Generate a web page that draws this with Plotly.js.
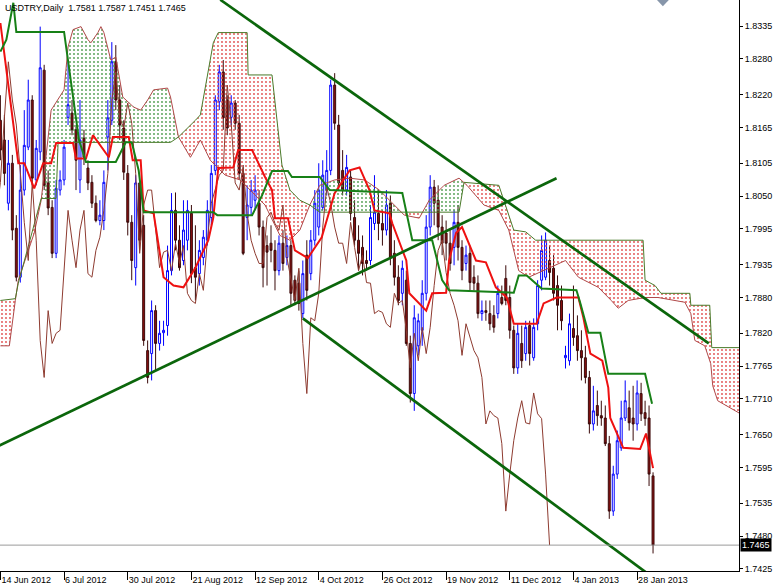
<!DOCTYPE html>
<html><head><meta charset="utf-8">
<script src="https://cdn.plot.ly/plotly-3.0.1.min.js"></script>
<style>html,body{margin:0;padding:0;background:#fff}#chart{width:774px;height:586px}</style>
</head><body><div id="chart"></div>
<script>
// ---------------- DATA ----------------
const symbol = 'USDTRY';
const timeframe = 'Daily';

const openPrice = [
1.8177,1.8144,1.8038,1.8105,1.7996,1.7914,1.8060,1.8132,1.8211,1.8077,
1.8124,1.8261,1.8072,1.8031,1.7954,1.8060,1.8077,1.8182,1.8189,1.8161,
1.8077,1.8147,1.8097,1.8073,1.8038,1.8009,1.8009,1.8149,1.8177,1.8275,
1.8211,1.8164,1.8088,1.8006,1.7930,1.8072,1.8001,1.7791,1.7786,1.7858,
1.7803,1.7821,1.7833,1.7925,1.8026,1.7976,1.7942,1.7976,1.8021,1.7930,
1.7920,1.7947,1.7976,1.8014,1.8093,1.8208,1.8258,1.8211,1.8182,1.8206,
1.8172,1.8088,1.8014,1.8031,1.8043,1.8038,1.7998,1.7967,1.7971,1.7959,
1.7925,1.7971,1.7947,1.7967,1.7909,1.7904,1.7853,1.7951,1.7920,1.7976,
1.7998,1.8031,1.8060,1.8093,1.8236,1.8169,1.8093,1.8060,1.8082,1.8014,
1.7976,1.7964,1.7942,1.7942,1.8004,1.8021,1.8004,1.7993,1.8038,1.7954,
1.7914,1.7887,1.7909,1.7803,1.7719,1.7799,1.7825,1.7887,1.7998,1.8065,
1.8043,1.7998,1.7988,1.7971,1.7964,1.8006,1.7964,1.7937,1.7954,1.7914,
1.7904,1.7853,1.7858,1.7853,1.7850,1.7853,1.7880,1.7912,1.7880,1.7825,
1.7762,1.7803,1.7786,1.7833,1.7779,1.7836,1.7909,1.7914,1.7942,1.7929,
1.7900,1.7875,1.7779,1.7774,1.7828,1.7816,1.7791,1.7779,1.7746,1.7668,
1.7699,1.7682,1.7678,1.7635,1.7522,1.7584,1.7628,1.7678,1.7695,1.7678,
1.7668,1.7719,1.7687,1.7678,1.7581];

const highPrice = [
1.8219,1.8186,1.8144,1.8119,1.8018,1.8102,1.8194,1.8245,1.8219,1.8144,
1.8334,1.8270,1.8093,1.8043,1.8077,1.8093,1.8144,1.8278,1.8211,1.8169,
1.8211,1.8161,1.8110,1.8085,1.8051,1.8043,1.8093,1.8211,1.8308,1.8303,
1.8236,1.8177,1.8102,1.8018,1.8085,1.8077,1.8018,1.7808,1.7875,1.7867,
1.7841,1.7841,1.7967,1.8055,1.8056,1.8001,1.8043,1.8043,1.8035,1.8001,
1.7976,1.7993,1.8043,1.8102,1.8219,1.8270,1.8278,1.8219,1.8219,1.8211,
1.8186,1.8102,1.8068,1.8077,1.8085,1.8060,1.8009,1.7984,1.8001,1.7976,
1.7984,1.7993,1.7984,1.7976,1.7917,1.7925,1.7942,1.7976,1.7993,1.8060,
1.8105,1.8110,1.8127,1.8245,1.8256,1.8186,1.8127,1.8119,1.8093,1.8043,
1.8001,1.7984,1.7959,1.8035,1.8085,1.8060,1.8026,1.8060,1.8051,1.7976,
1.7934,1.7942,1.7925,1.7816,1.7867,1.7853,1.7909,1.8018,1.8085,1.8077,
1.8068,1.8018,1.8009,1.7993,1.8026,1.8035,1.7976,1.7967,1.7967,1.7934,
1.7917,1.7875,1.7875,1.7875,1.7867,1.7900,1.7900,1.7934,1.7900,1.7833,
1.7836,1.7833,1.7841,1.7841,1.7845,1.7909,1.7984,1.7989,1.7967,1.7951,
1.7917,1.7900,1.7799,1.7853,1.7900,1.7850,1.7825,1.7799,1.7757,1.7732,
1.7724,1.7707,1.7699,1.7648,1.7598,1.7657,1.7707,1.7741,1.7724,1.7732,
1.7741,1.7737,1.7707,1.7699,1.7587];

const lowPrice = [
1.8110,1.8068,1.8026,1.7976,1.7907,1.7905,1.8051,1.8127,1.8068,1.8068,
1.8110,1.8060,1.8018,1.7946,1.7946,1.8051,1.8068,1.8169,1.8152,1.8060,
1.8055,1.8102,1.8060,1.8030,1.8006,1.8001,1.7993,1.8093,1.8169,1.8194,
1.8144,1.8077,1.7984,1.7909,1.7900,1.7959,1.7799,1.7736,1.7741,1.7757,
1.7791,1.7799,1.7816,1.7917,1.7959,1.7925,1.7934,1.7959,1.7904,1.7875,
1.7900,1.7934,1.7967,1.8001,1.8085,1.8194,1.8161,1.8152,1.8169,1.8161,
1.8077,1.7951,1.7976,1.8018,1.8026,1.7984,1.7897,1.7900,1.7939,1.7892,
1.7917,1.7925,1.7934,1.7867,1.7867,1.7858,1.7845,1.7875,1.7909,1.7967,
1.7984,1.8026,1.8051,1.8085,1.8161,1.8060,1.8051,1.8051,1.8009,1.7967,
1.7925,1.7917,1.7925,1.7934,1.7993,1.7976,1.7967,1.7984,1.7934,1.7900,
1.7867,1.7867,1.7799,1.7704,1.7690,1.7783,1.7799,1.7875,1.7984,1.8001,
1.7976,1.7951,1.7942,1.7925,1.7934,1.7942,1.7909,1.7925,1.7892,1.7892,
1.7845,1.7841,1.7841,1.7825,1.7821,1.7845,1.7867,1.7867,1.7811,1.7752,
1.7752,1.7762,1.7774,1.7766,1.7774,1.7825,1.7892,1.7909,1.7900,1.7875,
1.7825,1.7825,1.7761,1.7766,1.7799,1.7774,1.7741,1.7736,1.7652,1.7657,
1.7665,1.7665,1.7631,1.7509,1.7514,1.7576,1.7623,1.7673,1.7657,1.7640,
1.7657,1.7673,1.7665,1.7564,1.7451];

const closePrice = [
1.8127,1.8088,1.8105,1.7993,1.7914,1.8060,1.8135,1.8211,1.8080,1.8130,
1.8265,1.8068,1.8030,1.7954,1.8063,1.8077,1.8132,1.8203,1.8161,1.8110,
1.8144,1.8115,1.8072,1.8038,1.8009,1.8018,1.8073,1.8181,1.8275,1.8211,
1.8169,1.8090,1.8006,1.7942,1.8072,1.7976,1.7808,1.7746,1.7858,1.7803,
1.7820,1.7825,1.7925,1.8026,1.7976,1.7930,1.7993,1.8026,1.7920,1.7914,
1.7959,1.7981,1.8026,1.8088,1.8211,1.8258,1.8181,1.8164,1.8206,1.8172,
1.8088,1.7954,1.8035,1.8060,1.8060,1.7998,1.7930,1.7956,1.7959,1.7925,
1.7971,1.7937,1.7967,1.7887,1.7875,1.7870,1.7920,1.7892,1.7976,1.8038,
1.8060,1.8085,1.8093,1.8236,1.8172,1.8072,1.8060,1.8098,1.8021,1.7976,
1.7954,1.7937,1.7937,1.8014,1.8023,1.8004,1.7993,1.8035,1.7947,1.7914,
1.7875,1.7929,1.7803,1.7719,1.7846,1.7841,1.7887,1.7998,1.8065,1.8038,
1.7998,1.7971,1.7971,1.7937,1.8006,1.7964,1.7925,1.7951,1.7905,1.7904,
1.7853,1.7858,1.7855,1.7836,1.7830,1.7887,1.7870,1.7875,1.7825,1.7762,
1.7820,1.7774,1.7830,1.7786,1.7830,1.7900,1.7959,1.7976,1.7922,1.7887,
1.7867,1.7841,1.7783,1.7836,1.7813,1.7791,1.7779,1.7746,1.7668,1.7690,
1.7682,1.7678,1.7635,1.7522,1.7584,1.7640,1.7678,1.7707,1.7670,1.7668,
1.7720,1.7685,1.7677,1.7584,1.7465];

// x-axis: bar numbers of the labelled dates
const dateTickBars = [0,16,32,48,64,80,96,112,128,144,160];
const dateTickLabels = ['14 Jun 2012','6 Jul 2012','30 Jul 2012','21 Aug 2012','12 Sep 2012',
  '4 Oct 2012','26 Oct 2012','19 Nov 2012','11 Dec 2012','4 Jan 2013','28 Jan 2013'];

// y-axis price labels
const priceTicks = [1.8335,1.8280,1.8220,1.8165,1.8105,1.8050,1.7995,1.7935,1.7880,
  1.7820,1.7765,1.7710,1.7650,1.7595,1.7535,1.7480,1.7425];

// Ichimoku lines (bar number, price)
const tenkanBar = [0,4.5,6,8.5,10.75,12.75,14,18.25,19,21.5,23.25,27.25,28.25,32.25,33.25,35.25,36,38.5,41,43.5,46,49,52.25,53.5,54.75,58.5,59.75,63.25,66.5,68.25,69,72.25,74,77.25,80.75,84,87.75,90.25,92.75,94,97.75,98.5,102,102.75,107,108.5,112,112.75,114.5,116,119.5,122,124.5,127.25,129,134.75,136.5,139.75,145.25,146.5,148.25,151.25,152.75,153.25,156.5,160.75,162.25,164];
const tenkanVal = [1.8340,1.8105,1.8105,1.8063,1.8105,1.8105,1.8139,1.8139,1.8113,1.8113,1.8152,1.8115,1.8149,1.8149,1.8110,1.8110,1.8026,1.8021,1.7914,1.7900,1.7897,1.7930,1.7976,1.8014,1.8097,1.8098,1.8127,1.8127,1.8082,1.8060,1.8013,1.8013,1.7959,1.7946,1.7981,1.8055,1.8093,1.8098,1.8060,1.8026,1.8021,1.8004,1.7942,1.7887,1.7858,1.7887,1.7888,1.7942,1.7988,1.7998,1.7942,1.7939,1.7897,1.7880,1.7836,1.7836,1.7870,1.7880,1.7880,1.7846,1.7786,1.7774,1.7729,1.7678,1.7628,1.7626,1.7652,1.7594];

const kijunBar = [0,1.5,3.25,4,16,18.25,19.75,21.5,29,31.5,33,34.75,36,53.5,54.5,63.25,65.75,68.25,72.25,73.25,80.25,82.75,101,103.5,108.5,111,112.75,129,130.25,132.25,136,144.75,145.75,147.75,150.75,152.75,162,163.75];
const kijunVal = [1.8292,1.8312,1.8374,1.8325,1.8325,1.8211,1.8144,1.8107,1.8107,1.8140,1.8140,1.8093,1.8023,1.8023,1.8018,1.8018,1.8051,1.8092,1.8092,1.8082,1.8082,1.8060,1.8055,1.7976,1.7976,1.7909,1.7892,1.7888,1.7917,1.7917,1.7895,1.7892,1.7870,1.7821,1.7821,1.7752,1.7752,1.7702];

const senkouABar = [0,2.25,3.75,4.5,8.5,10.25,12.75,16,17,18.25,20.25,22,22.75,24.5,25.25,26,27.75,29,30.75,33.5,35.25,37,38.5,42,42.75,44.75,47.75,50.25,52.75,56.5,60.25,64,66.5,70.25,72.75,75.25,77.75,80.25,84,87.75,91.5,95.25,99,101.5,105.25,107.75,111.5,115.25,117.25,121.5,125.25,127.75,130.25,132.75,137.75,142,145.25,150.25,153.5,155.25,157.75,162,165.25,172,173.5,174.5,177,178.5,179,180.25,186];
const senkouAVal = [1.7799,1.7799,1.7875,1.7909,1.7988,1.8043,1.8194,1.8228,1.8300,1.8329,1.8334,1.8312,1.8307,1.8324,1.8334,1.8324,1.8278,1.8283,1.8216,1.8199,1.8194,1.8211,1.8228,1.8231,1.8216,1.8149,1.8115,1.8144,1.8110,1.8085,1.8077,1.8051,1.8035,1.7984,1.7976,1.7993,1.8035,1.8068,1.8077,1.8080,1.8077,1.8060,1.8035,1.8018,1.8013,1.8043,1.8068,1.8080,1.8068,1.8035,1.8026,1.7993,1.7925,1.7914,1.7929,1.7942,1.7914,1.7897,1.7875,1.7862,1.7875,1.7880,1.7880,1.7872,1.7853,1.7808,1.7799,1.7769,1.7732,1.7707,1.7685];

const senkouBBar = [0,3.75,4.5,9.75,10.25,14,14.5,42.75,44.75,49,50.25,53.5,54.75,62,62.25,68.25,70.75,72.75,75.25,77.75,80.25,115.25,116.5,125.25,129,132,134.5,161.5,162,164.5,166,173.25,173.5,178.25,178.75,186];
const senkouBVal = [1.7875,1.7878,1.7904,1.8035,1.8046,1.8046,1.8140,1.8140,1.8149,1.8177,1.8186,1.8307,1.8324,1.8324,1.8253,1.8253,1.8102,1.8060,1.8043,1.8035,1.8023,1.8023,1.8073,1.8068,1.7993,1.7990,1.7976,1.7976,1.7909,1.7900,1.7887,1.7887,1.7867,1.7867,1.7796,1.7796];

const chikouShift = 26;

// hand-drawn trend lines (bar number, price)
const resistanceBar = [55.25, 178];   const resistancePrice = [1.8379, 1.7803];
const supportBar    = [-0.5, 139.75]; const supportPrice    = [1.7631, 1.8080];
const channelBar    = [76, 163.5];    const channelPrice    = [1.7845, 1.7413];

// ---------------- DRAWING ----------------
const FONT = '"Liberation Sans", Arial, sans-serif';
const nBars = closePrice.length;
const bars = closePrice.map((_, i) => i);
const last = nBars - 1;

function lin(xs, ys, x) {
  if (x <= xs[0]) return ys[0];
  for (let k = 1; k < xs.length; k++) {
    if (x <= xs[k]) {
      const t = (x - xs[k-1]) / (xs[k] - xs[k-1] || 1);
      return ys[k-1] + t * (ys[k] - ys[k-1]);
    }
  }
  return ys[ys.length - 1];
}

// cloud segments between Senkou A and B
const g0 = Math.max(senkouABar[0], senkouBBar[0]);
const g1 = Math.min(senkouABar[senkouABar.length-1], senkouBBar[senkouBBar.length-1]);
const segs = [];
let cur = null;
for (let x = g0; x <= g1 + 1e-9; x += 0.25) {
  const a = lin(senkouABar, senkouAVal, x), b = lin(senkouBBar, senkouBVal, x);
  const up = a >= b;
  if (!cur) { cur = {up, xs:[x], a:[a], b:[b]}; continue; }
  if (up !== cur.up) {
    const n = cur.xs.length - 1;
    const px = cur.xs[n], pa = cur.a[n], pb = cur.b[n];
    const d0 = pa - pb, d1 = a - b;
    const t = d0 / (d0 - d1);
    const xc = px + t * (x - px), yc = pa + t * (a - pa);
    cur.xs.push(xc); cur.a.push(yc); cur.b.push(yc);
    segs.push(cur);
    cur = {up, xs:[xc, x], a:[yc, a], b:[yc, b]};
  } else {
    cur.xs.push(x); cur.a.push(a); cur.b.push(b);
  }
}
if (cur) segs.push(cur);

const traces = [];
segs.forEach(s => {
  const col = s.up ? '#4a9a4a' : '#e04848';
  traces.push({
    type:'scatter', mode:'lines', hoverinfo:'skip',
    x: s.xs.concat(s.xs.slice().reverse()),
    y: s.a.concat(s.b.slice().reverse()),
    fill:'toself', line:{width:0, color:'rgba(0,0,0,0)'},
    fillcolor:'rgba(255,255,255,0)',
    fillpattern:{shape:'.', fgcolor:col, bgcolor:'rgba(255,255,255,0)', size:4, solidity:0.16}
  });
});

// Senkou lines
traces.push({type:'scatter', mode:'lines', x:senkouABar, y:senkouAVal, line:{color:'#b04848', width:1}, hoverinfo:'skip'});
traces.push({type:'scatter', mode:'lines', x:senkouBBar, y:senkouBVal, line:{color:'#4a7a2a', width:1}, hoverinfo:'skip'});

// Chikou span: closes shifted back
traces.push({type:'scatter', mode:'lines', x:bars.map(i => i - chikouShift), y:closePrice,
  line:{color:'#8e3b30', width:1}, hoverinfo:'skip'});

// candles
traces.push({
  type:'candlestick', x:bars, open:openPrice, high:highPrice, low:lowPrice, close:closePrice,
  increasing:{line:{color:'#0000ff', width:1}, fillcolor:'#ffffff'},
  decreasing:{line:{color:'#3a0a0a', width:1}, fillcolor:'#8b1010'},
  whiskerwidth:0, hoverinfo:'skip'
});

// Tenkan / Kijun
traces.push({type:'scatter', mode:'lines', x:tenkanBar, y:tenkanVal, line:{color:'#ee1111', width:2}, hoverinfo:'skip'});
traces.push({type:'scatter', mode:'lines', x:kijunBar, y:kijunVal, line:{color:'#178017', width:2}, hoverinfo:'skip'});

// trend lines
[[resistanceBar, resistancePrice],[supportBar, supportPrice],[channelBar, channelPrice]].forEach(([xs, ys]) => {
  traces.push({type:'scatter', mode:'lines', x:xs, y:ys, line:{color:'#0b660b', width:2.7}, hoverinfo:'skip'});
});

const plotW = 739, plotH = 571;
const layout = {
  width:774, height:586,
  margin:{l:0, r:774-plotW, t:0, b:586-plotH, pad:0},
  paper_bgcolor:'#ffffff', plot_bgcolor:'#ffffff',
  showlegend:false,
  xaxis:{
    type:'linear', range:[-0.1, 185.6], showgrid:false, zeroline:false,
    showline:true, linecolor:'#000', linewidth:1,
    ticks:'outside', ticklen:8, tickcolor:'#000', tickwidth:1,
    tickvals:dateTickBars, ticktext:dateTickLabels,
    ticklabelposition:'outside right',
    tickfont:{family:FONT, size:9, color:'#000'},
    rangeslider:{visible:false}, fixedrange:true, automargin:false
  },
  yaxis:{
    side:'right', range:[1.74216, 1.83786], showgrid:false, zeroline:false,
    showline:true, linecolor:'#000', linewidth:1,
    ticks:'outside', ticklen:3, tickcolor:'#000',
    tickvals:priceTicks, ticktext:priceTicks.map(v => v.toFixed(4)),
    tickfont:{family:FONT, size:9, color:'#000'},
    fixedrange:true, automargin:false
  },
  shapes:[
    {type:'line', xref:'paper', x0:0, x1:1, yref:'y', y0:closePrice[last], y1:closePrice[last],
     line:{color:'#9a9a9a', width:1}, layer:'above'},
    {type:'path', xref:'paper', yref:'paper',
     path:'M 0.889 1 L 0.905 1 L 0.897 0.989 Z', fillcolor:'#8796aa', line:{width:0}}
  ],
  annotations:[
    {xref:'paper', yref:'paper', x:0, y:1, xanchor:'left', yanchor:'top', xshift:3, yshift:-1,
     showarrow:false, align:'left',
     text: symbol + ',' + timeframe + '&nbsp;&nbsp;' +
       [openPrice[last], highPrice[last], lowPrice[last], closePrice[last]].map(v => v.toFixed(4)).join(' '),
     font:{family:FONT, size:9, color:'#000'}},
    {xref:'paper', yref:'y', x:1, y:closePrice[last], xanchor:'left', yanchor:'middle', xshift:1,
     showarrow:false, text:closePrice[last].toFixed(4), bgcolor:'#000000', borderpad:1,
     font:{family:FONT, size:9, color:'#ffffff'}}
  ]
};

Plotly.newPlot('chart', traces, layout, {staticPlot:true, displayModeBar:false});
</script>
</body></html>
